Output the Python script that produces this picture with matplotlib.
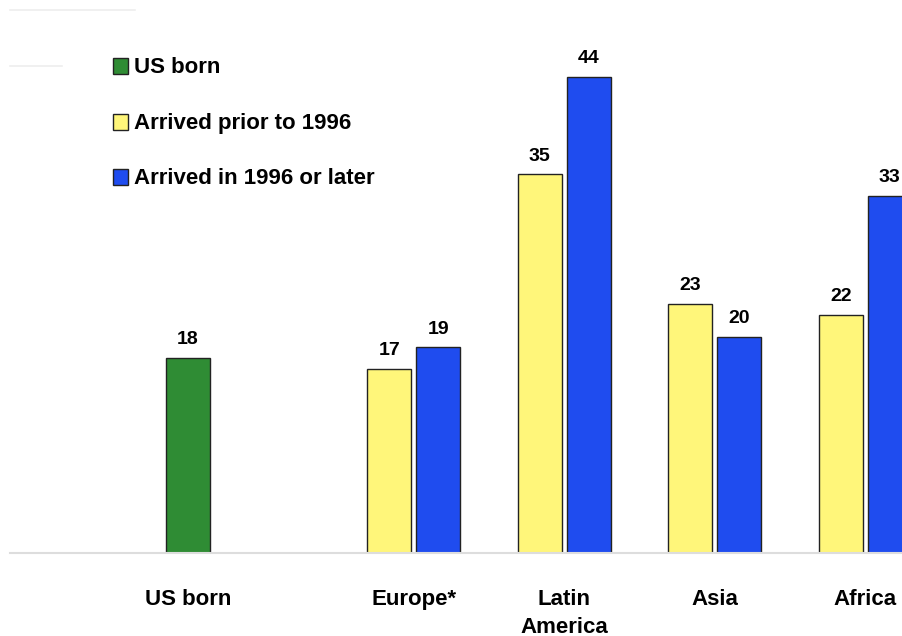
import matplotlib
matplotlib.use("Agg")
import matplotlib.pyplot as plt
from matplotlib.patches import Rectangle
from matplotlib.lines import Line2D

# categories and series (percent)
categories = ["US born", "Europe*", "Latin\nAmerica", "Asia", "Africa"]
positions = [0.0, 1.5, 2.5, 3.5, 4.5]
us_born = [18]
prior_1996 = [17, 35, 23, 22]
since_1996 = [19, 44, 20, 33]
series_names = ["US born", "Arrived prior to 1996", "Arrived in 1996 or later"]

GREEN = "#2f8c34"
YELLOW = "#fff67a"
BLUE = "#1f4cef"
W = 0.292
GAP = 0.033

plt.rcParams["font.family"] = ["Liberation Sans", "DejaVu Sans"]
plt.rcParams["font.weight"] = "bold"

fig = plt.figure(figsize=(9.03, 6.36), dpi=100)
ax = fig.add_axes([10 / 903, 83 / 636, 893 / 903, 553 / 636])

bars = [ax.bar([positions[0]], us_born, width=W, color=GREEN, edgecolor="#222222", linewidth=1)]
grp = positions[1:]
bars.append(ax.bar([p - W / 2 - GAP / 2 for p in grp], prior_1996, width=W,
                   color=YELLOW, edgecolor="#222222", linewidth=1))
bars.append(ax.bar([p + W / 2 + GAP / 2 for p in grp], since_1996, width=W,
                   color=BLUE, edgecolor="#222222", linewidth=1))

for bc in bars:
    for b in bc:
        ax.annotate(f"{b.get_height():.0f}", (b.get_x() + b.get_width() / 2, b.get_height()),
                    xytext=(0, 7), textcoords="offset points", ha="center", va="bottom",
                    fontsize=14, fontweight="bold")

ax.set_xlim(-1.183, 4.751)
ax.set_ylim(0, 51.1)
ax.set_yticks([])
ax.set_xticks(positions)
ax.set_xticklabels(categories, fontsize=16, fontweight="bold", linespacing=1.4, va="top")
ax.tick_params(axis="x", length=0, pad=26)
for s in ("top", "right", "left"):
    ax.spines[s].set_visible(False)
ax.spines["bottom"].set_color("#dddddd")
ax.spines["bottom"].set_linewidth(1.5)

# faint lines in top-left corner
fig.add_artist(Line2D([10 / 903, 135 / 903], [1 - 10 / 636] * 2, color="#eeeeee", lw=1.2))
fig.add_artist(Line2D([10 / 903, 62 / 903], [1 - 66 / 636] * 2, color="#eeeeee", lw=1.2))

# legend
for name, col, ypx in zip(series_names, [GREEN, YELLOW, BLUE], [66, 122, 177]):
    fig.add_artist(Rectangle((113 / 903, 1 - (ypx + 7.5) / 636), 15 / 903, 15 / 636,
                             facecolor=col, edgecolor="#222222", linewidth=1,
                             transform=fig.transFigure))
    fig.text(134 / 903, 1 - (ypx + 1.5) / 636, name, fontsize=16, fontweight="bold",
             va="center", ha="left")

fig.savefig("out.png", dpi=100)
